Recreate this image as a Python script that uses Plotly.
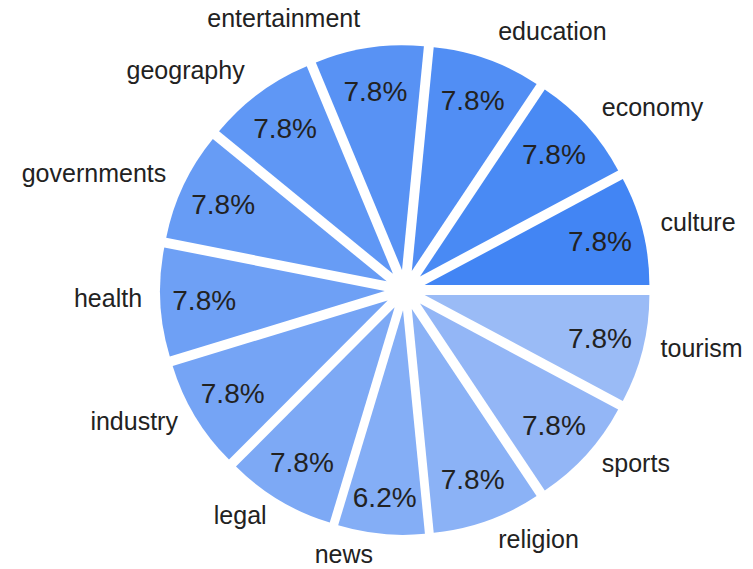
import plotly.graph_objects as go

labels = ["culture", "economy", "education", "entertainment", "geography", "governments",
          "health", "industry", "legal", "news", "religion", "sports", "tourism"]
values = [7.8, 7.8, 7.8, 7.8, 7.8, 7.8, 7.8, 7.8, 7.8, 6.2, 7.8, 7.8, 7.8]

c0 = (66, 133, 244)
c1 = (154, 187, 246)
n = len(labels)
colors = ["rgb(%d,%d,%d)" % tuple(round(a + (b - a) * i / (n - 1)) for a, b in zip(c0, c1)) for i in range(n)]

W, H = 753, 569
CX, CY = 405, 290          # pie centre (px from left / top)
D = 490                    # diameter of the pulled pie
PULL = 0.09
LABEL_PULL = 0.14          # extra pull on the (invisible) label layer pushes labels outwards
LABEL_DY = -5              # small vertical shift of the label layer

rot = 90 - 360 * values[0] / sum(values)


def dom(d, dy=0):
    cy = CY + dy
    return dict(x=[(CX - d / 2) / W, (CX + d / 2) / W],
                y=[(H - cy - d / 2) / H, (H - cy + d / 2) / H])


common = dict(labels=labels, values=values, sort=False, direction="counterclockwise",
              rotation=rot, showlegend=False, hoverinfo="skip")

fig = go.Figure()
fig.add_trace(go.Pie(
    marker=dict(colors=colors, line=dict(width=0)),
    pull=[PULL] * n, domain=dom(D),
    textinfo="percent", textposition="inside", insidetextorientation="horizontal",
    texttemplate="%{percent:.1%}",
    insidetextfont=dict(family="Liberation Sans, Arial", size=28, color="#222222"),
    **common,
))
D2 = D * (1 + LABEL_PULL) / (1 + PULL)
fig.add_trace(go.Pie(
    marker=dict(colors=["rgba(0,0,0,0)"] * n, line=dict(width=0)),
    pull=[LABEL_PULL] * n, domain=dom(D2, LABEL_DY),
    textinfo="label", textposition="outside",
    outsidetextfont=dict(family="Liberation Sans, Arial", size=25, color="#222222"),
    **common,
))
fig.update_layout(
    width=W, height=H,
    margin=dict(l=0, r=0, t=0, b=0, autoexpand=False),
    paper_bgcolor="white", plot_bgcolor="white",
)
fig.write_html("out.html")
